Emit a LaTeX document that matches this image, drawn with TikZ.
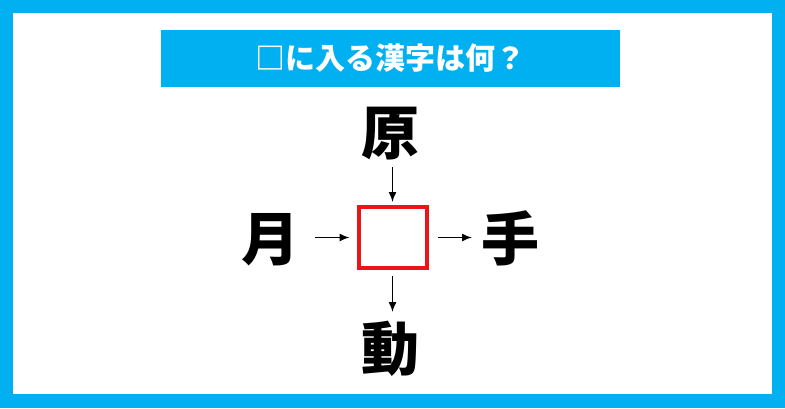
\documentclass[tikz,border=0pt]{standalone}
\usepackage{fontspec}
\newfontfamily\jp{Noto Sans CJK JP}
\usetikzlibrary{arrows.meta}
\definecolor{frameblue}{RGB}{0,176,240}
\definecolor{boxred}{RGB}{235,20,25}
\tikzset{
  kanji/.style={font=\jp\bfseries\fontsize{58}{58}\selectfont, inner sep=0pt, outer sep=0pt,
    text height=51pt, text depth=7pt, minimum width=58pt, align=center},
  conn/.style={line width=1.5pt, -{Latex[length=10pt,width=8pt]}},
  titlebar/.style={fill=frameblue, draw=none, inner sep=0pt, minimum width=459pt, minimum height=57pt,
    text=white, font=\jp\bfseries\fontsize{30}{30}\selectfont},
  answerbox/.style={draw=boxred, line width=4pt, minimum width=68pt, minimum height=61pt, inner sep=0pt, outer sep=2pt}
}
\begin{document}
\begin{tikzpicture}[x=1pt,y=-1pt]
\useasboundingbox (0,0) rectangle (785,408);
\fill[frameblue] (0,0) rectangle (785,408);
\fill[white] (13,13) rectangle (772,394);
\node[titlebar] (title) at (390.5,58.5) {□に入る漢字は何？};
\node[answerbox] (box) at (392.5,237.5) {};
\node[kanji] (top) at (390,132) {原};
\node[kanji] (left) at (270,238) {月};
\node[kanji] (right) at (510,238) {手};
\node[kanji] (bottom) at (390,348) {動};
\draw[conn, shorten <=6pt, shorten >=3pt] (top.south -| box.north) -- (box.north);
\draw[conn, shorten <=16pt, shorten >=7pt] (left.east |- box.west) -- (box.west);
\draw[conn, shorten <=9pt, shorten >=9pt] (box.east) -- (right.west |- box.east);
\draw[conn, shorten <=6pt, shorten >=7pt] (box.south) -- (bottom.north -| box.south);
\end{tikzpicture}
\end{document}
